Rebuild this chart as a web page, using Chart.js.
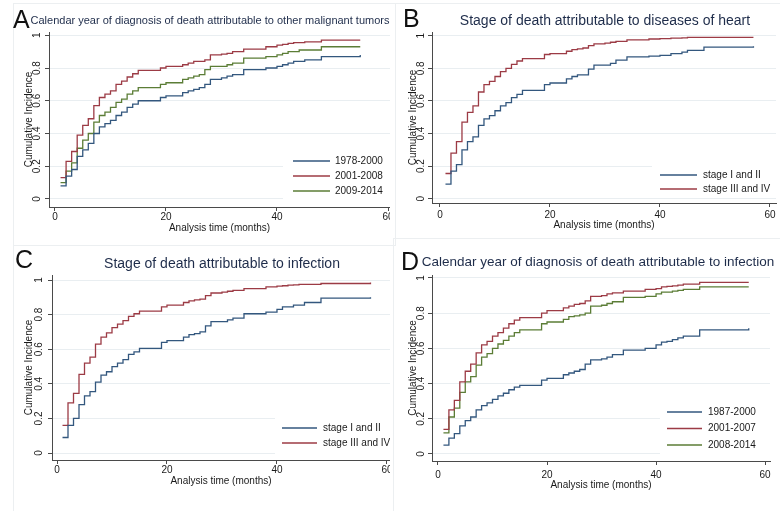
<!DOCTYPE html>
<html>
<head>
<meta charset="utf-8">
<script src="https://cdn.jsdelivr.net/npm/chart.js@4.4.1/dist/chart.umd.min.js"></script>
<style>
  body { margin: 0; background: #fff; }
  #wrap { position: relative; width: 780px; height: 511px; overflow: hidden; background: #fff; }
  .frame { position: absolute; border: 1px solid #eceff1; box-sizing: border-box; }
  canvas { position: absolute; }
</style>
</head>
<body>
<div id="wrap">
  <div class="frame" style="left:13px;top:3px;width:383px;height:243px"></div>
  <div class="frame" style="left:395px;top:3px;width:390px;height:236px"></div>
  <div class="frame" style="left:13px;top:245px;width:381px;height:270px"></div>
  <div class="frame" style="left:393px;top:238px;width:392px;height:277px"></div>
  <canvas id="chartA" width="390" height="255" style="left:0;top:0"></canvas>
  <canvas id="chartB" width="390" height="255" style="left:390px;top:0"></canvas>
  <canvas id="chartC" width="390" height="271" style="left:0;top:240px"></canvas>
  <canvas id="chartD" width="390" height="271" style="left:390px;top:240px"></canvas>
</div>
<script>
// shared axes
const months = [1, 2, 3, 4, 5, 6, 7, 8, 9, 10, 11, 12, 13, 14, 15, 19, 20, 23, 24, 25, 26, 27, 28, 30, 31, 32, 34, 38, 40, 41, 42, 43, 44, 45, 48, 57];
const monthsA = [1, 2, 3, 4, 5, 6, 7, 8, 9, 10, 11, 12, 13, 14, 15, 19, 20, 23, 24, 25, 26, 27, 28, 30, 31, 32, 34, 38, 40, 41, 42, 43, 44, 45, 48, 55];
const xTicks = [0, 20, 40, 60];
const yTicks = [0, 0.2, 0.4, 0.6, 0.8, 1];
const yTickLabels = ['0', '0.2', '0.4', '0.6', '0.8', '1'];

// A - other malignant tumors, by calendar year
const periodsA = ['1978-2000', '2001-2008', '2009-2014'];
const tumor1978 = [.08, .14, .18, .26, .30, .34, .40, .44, .46, .48, .51, .53, .56, .58, .60, .62, .63, .65, .66, .67, .68, .70, .73, .74, .75, .76, .79, .80, .81, .82, .83, .84, .84, .85, .87, .88];
const tumor2001 = [.13, .23, .29, .39, .45, .49, .57, .62, .64, .66, .70, .72, .745, .765, .785, .80, .81, .82, .83, .84, .84, .85, .88, .885, .89, .90, .915, .93, .94, .945, .95, .955, .955, .96, .97, .97];
const tumor2009 = [.10, .17, .22, .31, .36, .40, .47, .51, .53, .56, .59, .61, .64, .66, .68, .70, .71, .73, .74, .75, .76, .79, .81, .81, .82, .83, .86, .87, .88, .89, .90, .90, .91, .91, .93, .93];

// B - diseases of heart, by stage
const stages = ['stage I and II', 'stage III and IV'];
const heartEarly = [.09, .17, .21, .30, .35, .38, .45, .49, .51, .54, .57, .59, .62, .64, .665, .70, .71, .735, .75, .76, .76, .795, .82, .82, .83, .85, .87, .875, .88, .88, .89, .89, .90, .91, .93, .935];
const heartLate = [.155, .28, .35, .47, .53, .57, .655, .70, .72, .75, .78, .80, .825, .845, .86, .885, .89, .905, .915, .92, .925, .94, .95, .955, .96, .965, .975, .98, .982, .982, .985, .985, .987, .99, .99, .99];

// C - infection, by stage
const infectEarly = [.09, .16, .20, .28, .33, .355, .41, .45, .47, .50, .52, .54, .57, .585, .605, .64, .65, .67, .685, .69, .70, .735, .76, .76, .77, .78, .805, .815, .83, .845, .845, .855, .855, .87, .895, .90];
const infectLate = [.16, .29, .345, .455, .52, .555, .63, .67, .695, .725, .745, .765, .79, .805, .82, .845, .855, .87, .88, .885, .89, .91, .925, .93, .935, .94, .95, .96, .965, .967, .97, .972, .975, .975, .98, .985];

// D - infection, by calendar year
const periodsD = ['1987-2000', '2001-2007', '2008-2014'];
const infect1987 = [.05, .09, .115, .16, .19, .21, .25, .275, .29, .31, .33, .345, .365, .38, .39, .42, .43, .45, .46, .47, .48, .51, .535, .54, .55, .565, .59, .60, .62, .635, .64, .65, .66, .67, .705, .715];
const infect2001 = [.14, .25, .305, .41, .47, .51, .575, .62, .64, .67, .69, .715, .74, .76, .775, .80, .815, .83, .84, .85, .855, .87, .895, .90, .91, .915, .925, .935, .94, .95, .952, .955, .96, .965, .975, .975];
const infect2008 = [.12, .21, .26, .35, .41, .44, .505, .55, .57, .60, .625, .645, .67, .69, .705, .74, .75, .765, .78, .785, .79, .80, .84, .845, .855, .865, .89, .895, .91, .92, .92, .925, .93, .935, .95, .95];

const blue = '#33577e';
const red = '#9c3b45';
const green = '#5b7d36';
const axisColor = '#4a4a4a';
const gridColor = '#e9eef1';
const fontFamily = '"Liberation Sans", Arial, sans-serif';

Chart.defaults.font.family = fontFamily;
Chart.defaults.font.size = 10;
Chart.defaults.color = '#1a1a1a';

// letter + title above each panel
const panelText = {
    id: 'panelText',
    afterDraw(chart, args, o) {
        const ctx = chart.ctx;
        ctx.save();
        ctx.fillStyle = '#111';
        ctx.font = '25px ' + fontFamily;
        ctx.textAlign = 'left';
        ctx.textBaseline = 'alphabetic';
        ctx.fillText(o.letter, o.letterX, o.letterY);
        ctx.fillStyle = '#1e2c4a';
        ctx.font = o.titleSize + 'px ' + fontFamily;
        ctx.textAlign = 'center';
        ctx.textBaseline = 'middle';
        ctx.fillText(o.title, o.titleX, o.titleY);
        ctx.restore();
    }
};

// legend drawn inside the plot region, Stata style
const insetLegend = {
    id: 'insetLegend',
    afterDatasetsDraw(chart, args, o) {
        const ctx = chart.ctx;
        ctx.save();
        ctx.fillStyle = '#fff';
        ctx.fillRect(o.boxX, o.boxY, o.boxW, o.boxH);
        ctx.font = '10px ' + fontFamily;
        ctx.textAlign = 'left';
        ctx.textBaseline = 'middle';
        chart.data.datasets.forEach(function(ds, i) {
            const y = o.rowY + i * o.rowGap;
            ctx.strokeStyle = ds.borderColor;
            ctx.lineWidth = 1.3;
            ctx.beginPath();
            ctx.moveTo(o.lineX, y);
            ctx.lineTo(o.lineX + o.lineW, y);
            ctx.stroke();
            ctx.fillStyle = '#1a1a1a';
            ctx.fillText(ds.label, o.textX, y);
        });
        ctx.restore();
    }
};

function series(label, xs, ys, color) {
    return {
        label: label,
        data: xs.map(function(m, i) { return { x: m, y: ys[i] }; }),
        borderColor: color,
        borderWidth: 1.3,
        stepped: true,
        pointRadius: 0,
        fill: false
    };
}

function makePanel(id, p) {
    return new Chart(document.getElementById(id), {
        type: 'line',
        data: { datasets: p.datasets },
        plugins: [panelText, insetLegend],
        options: {
            responsive: false,
            animation: false,
            devicePixelRatio: 1,
            events: [],
            layout: { padding: { top: p.top, right: p.right, bottom: 0, left: 0 } },
            plugins: {
                legend: { display: false },
                tooltip: { enabled: false },
                panelText: p.text,
                insetLegend: p.legend
            },
            scales: {
                x: {
                    type: 'linear',
                    min: p.xMin,
                    max: p.xMax,
                    afterBuildTicks: function(s) { s.ticks = xTicks.map(function(v) { return { value: v }; }); },
                    afterFit: function(s) { s.height = p.xHeight; s.paddingLeft = 0; s.paddingRight = 0; },
                    grid: { drawOnChartArea: false, tickLength: 4, tickColor: axisColor },
                    border: { color: axisColor },
                    ticks: { padding: p.xTickPad, maxRotation: 0, autoSkip: false },
                    title: { display: true, text: 'Analysis time (months)', padding: { top: 0, bottom: p.xTitlePad } }
                },
                y: {
                    type: 'linear',
                    min: p.yMin,
                    max: p.yMax,
                    afterBuildTicks: function(s) { s.ticks = yTicks.map(function(v) { return { value: v }; }); },
                    afterFit: function(s) { s.width = p.yWidth; s.paddingTop = 0; s.paddingBottom = 0; },
                    grid: { color: gridColor, tickLength: 4, tickColor: axisColor },
                    border: { color: axisColor },
                    ticks: {
                        minRotation: 90, maxRotation: 90, crossAlign: 'center', padding: p.yTickPad,
                        callback: function(v, i) { return yTickLabels[i]; }
                    },
                    title: { display: true, text: 'Cumulative Incidence', padding: { top: p.yTitlePad, bottom: 0 } }
                }
            }
        }
    });
}

makePanel('chartA', {
    datasets: [
        series(periodsA[0], monthsA, tumor1978, blue),
        series(periodsA[1], monthsA, tumor2001, red),
        series(periodsA[2], monthsA, tumor2009, green)
    ],
    top: 32, right: 0, xMin: -1.08, xMax: 60.36, yMin: -0.049, yMax: 1.02,
    xHeight: 48, yWidth: 49, xTickPad: 0, xTitlePad: 21, yTickPad: 1, yTitlePad: 23,
    text: { letter: 'A', letterX: 13, letterY: 28, title: 'Calendar year of diagnosis of death attributable to other malignant tumors', titleX: 210, titleY: 21, titleSize: 11 },
    legend: { boxX: 283, boxY: 151, boxW: 107, boxH: 49, lineX: 293, lineW: 37, textX: 335, rowY: 161, rowGap: 15 }
});

makePanel('chartB', {
    datasets: [
        series(stages[0], months, heartEarly, blue),
        series(stages[1], months, heartLate, red)
    ],
    top: 32, right: 4, xMin: -1.45, xMax: 61.1, yMin: -0.026, yMax: 1.023,
    xHeight: 52, yWidth: 42, xTickPad: 2, xTitlePad: 24, yTickPad: 0, yTitlePad: 17,
    text: { letter: 'B', letterX: 13, letterY: 27, title: 'Stage of death attributable to diseases of heart', titleX: 215, titleY: 21, titleSize: 14 },
    legend: { boxX: 262, boxY: 166, boxW: 124, boxH: 32, lineX: 270, lineW: 37, textX: 313, rowY: 175, rowGap: 14 }
});

makePanel('chartC', {
    datasets: [
        series(stages[0], months, infectEarly, blue),
        series(stages[1], months, infectLate, red)
    ],
    top: 35, right: 0, xMin: -0.91, xMax: 60.55, yMin: -0.04, yMax: 1.029,
    xHeight: 51, yWidth: 52, xTickPad: 0, xTitlePad: 24, yTickPad: 2, yTitlePad: 23,
    text: { letter: 'C', letterX: 15, letterY: 28, title: 'Stage of death attributable to infection', titleX: 222, titleY: 24, titleSize: 14 },
    legend: { boxX: 275, boxY: 178, boxW: 115, boxH: 36, lineX: 282, lineW: 35, textX: 323, rowY: 188, rowGap: 15 }
});

makePanel('chartD', {
    datasets: [
        series(periodsD[0], months, infect1987, blue),
        series(periodsD[1], months, infect2001, red),
        series(periodsD[2], months, infect2008, green)
    ],
    top: 35, right: 10, xMin: -1.1, xMax: 60.9, yMin: -0.04, yMax: 1.017,
    xHeight: 50, yWidth: 42, xTickPad: 4, xTitlePad: 20, yTickPad: 0, yTitlePad: 17,
    text: { letter: 'D', letterX: 11, letterY: 30, title: 'Calendar year of diagnosis of death attributable to infection', titleX: 208, titleY: 22, titleSize: 13.5 },
    legend: { boxX: 270, boxY: 162, boxW: 110, boxH: 54, lineX: 277, lineW: 35, textX: 318, rowY: 172, rowGap: 16.5 }
});
</script>
</body>
</html>
